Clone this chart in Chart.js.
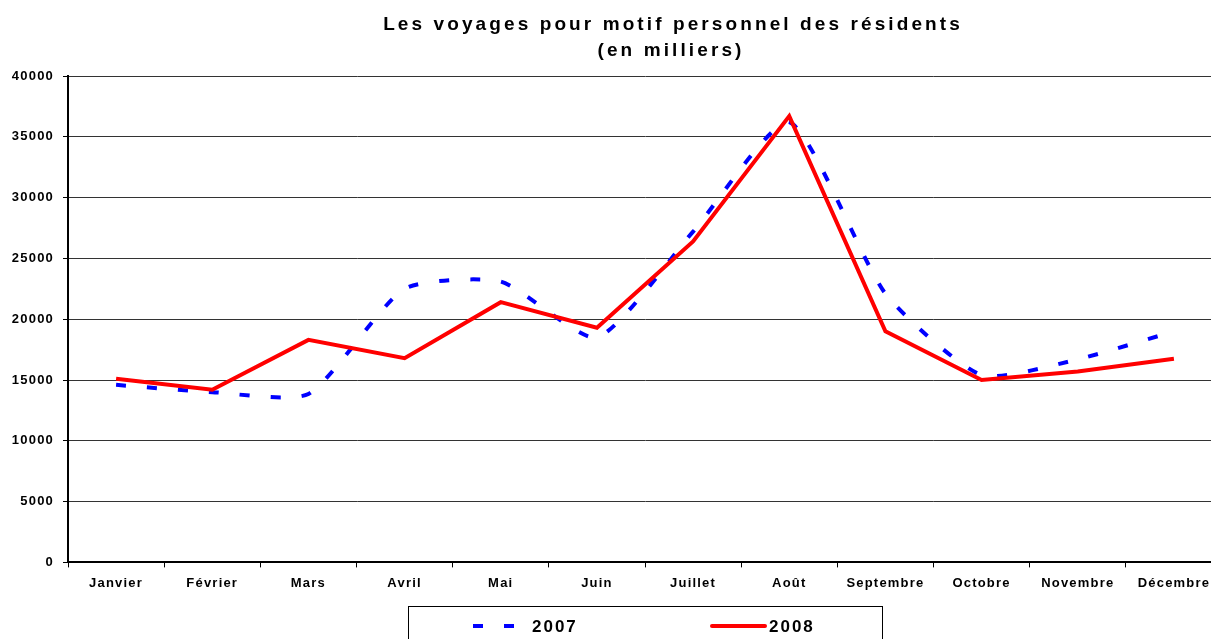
<!DOCTYPE html>
<html>
<head>
<meta charset="utf-8">
<script src="https://cdn.jsdelivr.net/npm/chart.js@4.4.0/dist/chart.umd.min.js"></script>
<style>
  html, body { margin: 0; padding: 0; background: #fff; overflow: hidden; }
  #chart { display: block; }
</style>
</head>
<body>
<canvas id="chart" width="1222" height="639"></canvas>
<script>
// donnees (en milliers)
const months = ['Janvier', 'Février', 'Mars', 'Avril', 'Mai', 'Juin', 'Juillet', 'Août', 'Septembre', 'Octobre', 'Novembre', 'Décembre'];
const v2007 = [14600, 14000, 13850, 22500, 23100, 18500, 27200, 36200, 22100, 15400, 16700, 19000];
const v2008 = [15100, 14200, 18300, 16800, 21400, 19300, 26400, 36700, 19000, 15000, 15700, 16750];
const titleLines = ['Les voyages pour motif personnel des résidents', '(en milliers)'];
const seriesNames = ['2007', '2008'];

const FONT = '"Liberation Sans", Arial, sans-serif';

// espacement des lettres comme dans le rendu Excel
const spacing = {
  id: 'spacing',
  beforeLayout(chart) { chart.ctx.letterSpacing = '1.2px'; },
  beforeDraw(chart) { chart.ctx.letterSpacing = '1.2px'; }
};

// titre + legende encadree
const decor = {
  id: 'decor',
  afterDraw(chart) {
    const c = chart.ctx;
    c.save();
    c.fillStyle = '#000';
    c.textAlign = 'center';
    c.textBaseline = 'middle';
    c.letterSpacing = '3.1px';
    c.font = 'bold 19px ' + FONT;
    c.fillText(titleLines[0], 673, 25);
    c.fillText(titleLines[1], 671, 51);

    // cadre legende
    c.letterSpacing = '2px';
    c.strokeStyle = '#000';
    c.lineWidth = 1;
    c.strokeRect(408.5, 606.5, 474, 60);

    const ds = chart.data.datasets;
    const ly = 626;
    // 2007 : tirets bleus
    c.strokeStyle = ds[0].borderColor;
    c.lineWidth = 4;
    c.beginPath();
    c.moveTo(473, ly); c.lineTo(483, ly);
    c.moveTo(504, ly); c.lineTo(514, ly);
    c.stroke();
    // 2008 : ligne rouge
    c.strokeStyle = ds[1].borderColor;
    c.lineCap = 'round';
    c.beginPath();
    c.moveTo(712, ly); c.lineTo(765, ly);
    c.stroke();

    c.textAlign = 'left';
    c.font = 'bold 17px ' + FONT;
    c.fillText(ds[0].label, 532, ly + 1);
    c.fillText(ds[1].label, 769, ly + 1);
    c.restore();
  }
};

const ctx = document.getElementById('chart').getContext('2d');
const myChart = new Chart(ctx, {
  type: 'line',
  data: {
    labels: months,
    datasets: [{
      label: seriesNames[0],
      data: v2007,
      borderColor: '#0000ff',
      borderWidth: 4,
      borderDash: [10, 21],
      borderCapStyle: 'butt',
      tension: 0.2,
      pointRadius: 0,
      fill: false,
      order: 2
    }, {
      label: seriesNames[1],
      data: v2008,
      borderColor: '#ff0000',
      borderWidth: 4,
      tension: 0,
      pointRadius: 0,
      fill: false,
      order: 1
    }]
  },
  options: {
    responsive: false,
    animation: false,
    layout: { padding: { top: 76, bottom: 40, left: 0, right: 0 } },
    plugins: {
      legend: { display: false },
      title: { display: false },
      tooltip: { enabled: false }
    },
    scales: {
      x: {
        offset: true,
        grid: { offset: true, drawOnChartArea: false, tickLength: 5, color: '#000', lineWidth: 1 },
        border: { color: '#000', width: 2 },
        ticks: {
          color: '#000', autoSkip: false, maxRotation: 0, minRotation: 0, padding: 8,
          font: { family: FONT, size: 13, weight: 'bold' }
        }
      },
      y: {
        min: 0,
        max: 40000,
        afterFit(scale) { scale.width = 68; },
        grid: { color: '#333', lineWidth: 1, tickLength: 5, tickColor: '#000' },
        border: { color: '#000', width: 2 },
        ticks: {
          stepSize: 5000, color: '#000', padding: 9,
          font: { family: FONT, size: 13, weight: 'bold' },
          callback: v => String(v)
        }
      }
    }
  },
  plugins: [spacing, decor]
});
</script>
</body>
</html>
